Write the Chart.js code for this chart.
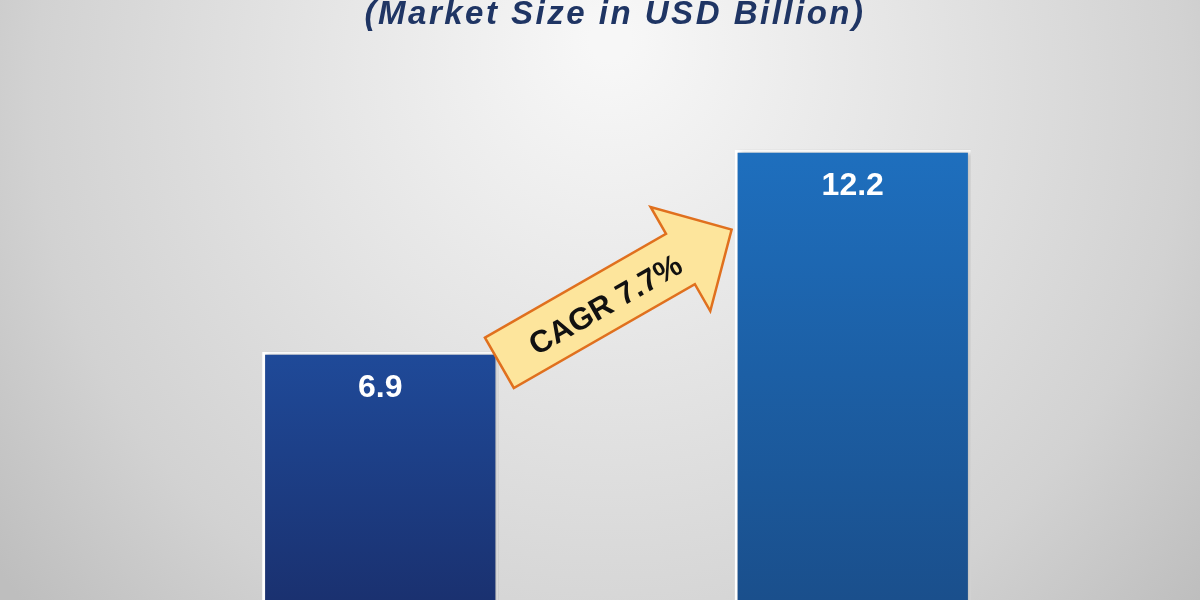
<!DOCTYPE html>
<html>
<head>
<meta charset="utf-8">
<script src="https://cdn.jsdelivr.net/npm/chart.js@4/dist/chart.umd.min.js"></script>
<style>
  html, body { margin: 0; padding: 0; background: #d8d8d8; }
  #wrap { width: 1200px; height: 600px; overflow: hidden; position: relative; }
  canvas { display: block; }
</style>
</head>
<body>
<div id="wrap"><canvas id="c" width="1200" height="615"></canvas></div>
<script>
const categories = ["Start", "End"];
const marketSize = [6.9, 12.2];
const valueLabels = ["6.9", "12.2"];
const titleText = "(Market Size in USD Billion)";
const cagrText = "CAGR 7.7%";

const topColors = ["#1f4a99", "#1e6fbe"];
const bottomColors = ["#1a3170", "#1a4f8c"];

function barGradient(ctx) {
  const chart = ctx.chart;
  const area = chart.chartArea;
  const ys = chart.scales && chart.scales.y;
  if (!area || !ys) return topColors[ctx.dataIndex];
  let yTop = ys.getPixelForValue(marketSize[ctx.dataIndex]);
  if (!isFinite(yTop)) yTop = area.top;
  const g = chart.ctx.createLinearGradient(0, yTop, 0, 600);
  g.addColorStop(0, topColors[ctx.dataIndex]);
  g.addColorStop(1, bottomColors[ctx.dataIndex]);
  return g;
}

const bgPlugin = {
  id: 'bg',
  beforeDraw(chart) {
    const c = chart.ctx;
    c.save();
    const g = c.createRadialGradient(610, 40, 20, 610, 120, 760);
    g.addColorStop(0, '#f7f7f7');
    g.addColorStop(0.35, '#e6e6e6');
    g.addColorStop(0.75, '#d2d2d2');
    g.addColorStop(1, '#bebebe');
    c.fillStyle = g;
    c.fillRect(0, 0, chart.width, chart.height);
    c.font = 'italic bold 33px "Liberation Sans", Arial, sans-serif';
    c.fillStyle = '#1f3564';
    c.textAlign = 'center';
    c.textBaseline = 'alphabetic';
    try { c.letterSpacing = '2.5px'; } catch (e) {}
    c.fillText(titleText, 615, 24);
    try { c.letterSpacing = '0px'; } catch (e) {}
    c.restore();
  },
  beforeDatasetsDraw(chart) {
    const c = chart.ctx;
    c.save();
    c.shadowColor = 'rgba(0,0,0,0.25)';
    c.shadowBlur = 4;
    c.shadowOffsetX = 3;
    c.shadowOffsetY = 0;
  },
  afterDatasetsDraw(chart) {
    const c = chart.ctx;
    c.restore();
    const meta = chart.getDatasetMeta(0);
    const b1 = meta.data[0], b2 = meta.data[1];
    if (!b1 || !b2) return;
    c.save();
    c.font = 'bold 32px "Liberation Sans", Arial, sans-serif';
    c.fillStyle = '#ffffff';
    c.textAlign = 'center';
    c.textBaseline = 'alphabetic';
    meta.data.forEach((el, i) => {
      c.fillText(valueLabels[i], el.x, el.y + 45);
    });
    const tailX = b1.x + b1.width / 2 + 1, tailY = b1.y + 11;
    const tipX = b2.x - b2.width / 2 - 3, tipY = b2.y + 80;
    const dx = tipX - tailX, dy = tipY - tailY;
    const len = Math.hypot(dx, dy);
    const ang = Math.atan2(dy, dx);
    const headStart = len - 59, sh = 29, hh = 60;
    c.translate(tailX, tailY);
    c.rotate(ang);
    c.beginPath();
    c.moveTo(0, -sh);
    c.lineTo(headStart, -sh);
    c.lineTo(headStart, -hh);
    c.lineTo(len, 0);
    c.lineTo(headStart, hh);
    c.lineTo(headStart, sh);
    c.lineTo(0, sh);
    c.closePath();
    c.fillStyle = '#fde59c';
    c.fill();
    c.lineWidth = 2.5;
    c.lineJoin = 'miter';
    c.strokeStyle = '#e0701e';
    c.stroke();
    c.font = 'bold 31px "Liberation Sans", Arial, sans-serif';
    c.fillStyle = '#111111';
    c.textAlign = 'center';
    c.textBaseline = 'middle';
    c.fillText(cagrText, 121, 4);
    c.restore();
  }
};

new Chart(document.getElementById('c'), {
  type: 'bar',
  data: {
    labels: categories,
    datasets: [{
      data: marketSize,
      backgroundColor: barGradient,
      borderColor: '#ffffff',
      borderWidth: { top: 3, left: 3, right: 3, bottom: 0 },
      borderSkipped: 'bottom',
      barPercentage: 1,
      categoryPercentage: 0.5
    }]
  },
  options: {
    responsive: false,
    devicePixelRatio: 1,
    animation: false,
    layout: { padding: { left: 144, right: 111, top: 81, bottom: 0 } },
    plugins: { legend: { display: false }, tooltip: { enabled: false }, title: { display: false } },
    scales: {
      x: { display: false },
      y: { display: false, min: 0, max: 14 }
    }
  },
  plugins: [bgPlugin]
});
</script>
</body>
</html>
